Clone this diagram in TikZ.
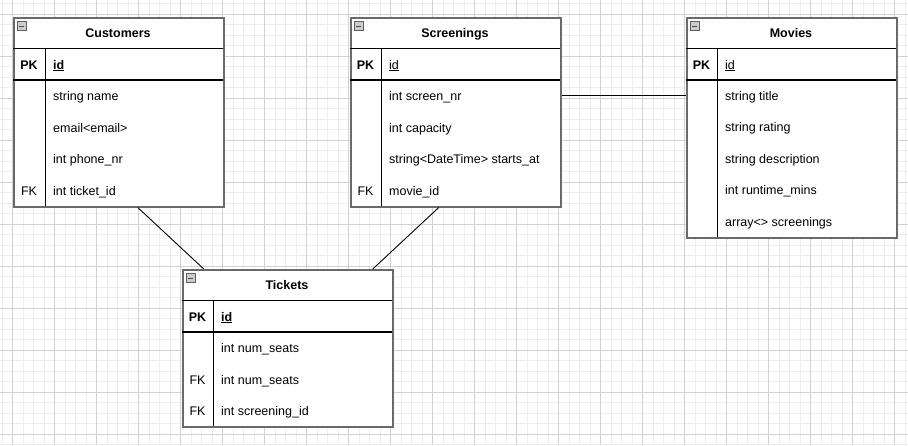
\documentclass[tikz,border=0pt]{standalone}
\usepackage{fontspec}
\setmainfont{Liberation Sans}
\definecolor{gridlight}{HTML}{EEEEEE}
\definecolor{griddark}{HTML}{D2D2D2}
\definecolor{framegray}{HTML}{6A6A6A}
\tikzset{
  tablebox/.style={draw=framegray, line width=1.5pt, fill=white, minimum width=210pt, inner sep=0pt, anchor=north west},
  sepline/.style={black, line width=0.9pt},
  pkline/.style={black, line width=1.3pt},
  txt/.style={inner sep=0pt, text height=10.5pt, text depth=0.5pt},
  title/.style={txt, font=\fontsize{12.5}{15}\selectfont\bfseries},
  keycell/.style={txt, font=\fontsize{12.5}{15}\selectfont},
  pkcell/.style={txt, font=\fontsize{12.5}{15}\selectfont\bfseries},
  field/.style={txt, anchor=west, font=\fontsize{12.5}{15}\selectfont},
  icon/.style={draw=gray!75!black, fill=gray!40, line width=0.7pt},
  link/.style={black, line width=0.9pt},
}
\begin{document}
\begin{tikzpicture}[x=1pt,y=-1pt]
\useasboundingbox (0,0) rectangle (908,445);
% background grid
\fill[white] (0,0) rectangle (908,445);
\foreach \gx in {0,...,86} \draw[gridlight, line width=0.8pt] ({2+10.5*\gx},0) -- ++(0,445);
\foreach \gy in {0,...,42} \draw[gridlight, line width=0.8pt] (0,{3.5+10.5*\gy}) -- ++(908,0);
\foreach \gx in {0,...,21} \draw[griddark, line width=0.8pt] ({12.5+42*\gx},0) -- ++(0,445);
\foreach \gy in {0,...,10} \draw[griddark, line width=0.8pt] (0,{14+42*\gy}) -- ++(908,0);

% Customers
\node[tablebox, minimum height=189pt] (cust) at (13,17) {};
\draw[sepline] (13,48) -- (223,48);
\draw[pkline] (13,80) -- (223,80);
\draw[sepline] (45,48) -- (45,206);
\draw[icon] (17,21.5) rectangle (26,30);
\draw[black!70] (19,25.75) -- (24,25.75);
\node[title] (cust-t) at (118,32.5) {Customers};
\node[pkcell] (cust-pk) at (29,64) {PK};
\node[field, font=\fontsize{12.5}{15}\selectfont\bfseries] (cust-id) at (53,64) {\underline{id}};
\foreach \txt [count=\i] in {string name, email<email>, int phone\_nr, int ticket\_id}
  \node[field] (cust-f\i) at (53,{95.75+31.5*(\i-1)}) {\txt};
\node[keycell] (cust-fk) at (29,190.25) {FK};

% Screenings
\node[tablebox, minimum height=189pt] (scr) at (350,17) {};
\draw[sepline] (350,48) -- (560,48);
\draw[pkline] (350,80) -- (560,80);
\draw[sepline] (381,48) -- (381,206);
\draw[icon] (354,21.5) rectangle (363,30);
\draw[black!70] (356,25.75) -- (361,25.75);
\node[title] (scr-t) at (455,32.5) {Screenings};
\node[pkcell] (scr-pk) at (365.5,64) {PK};
\node[field] (scr-id) at (389,64) {\underline{id}};
\foreach \txt [count=\i] in {int screen\_nr, int capacity, string<DateTime> starts\_at, movie\_id}
  \node[field] (scr-f\i) at (389,{95.75+31.5*(\i-1)}) {\txt};
\node[keycell] (scr-fk) at (365.5,190.25) {FK};

% Movies
\node[tablebox, minimum height=220pt] (mov) at (686,17) {};
\draw[sepline] (686,48) -- (896,48);
\draw[pkline] (686,80) -- (896,80);
\draw[sepline] (717,48) -- (717,237);
\draw[icon] (690,21.5) rectangle (699,30);
\draw[black!70] (692,25.75) -- (697,25.75);
\node[title] (mov-t) at (791,32.5) {Movies};
\node[pkcell] (mov-pk) at (701.5,64) {PK};
\node[field] (mov-id) at (725,64) {\underline{id}};
\foreach \txt [count=\i] in {string title, string rating, string description, int runtime\_mins, array<> screenings}
  \node[field] (mov-f\i) at (725,{95.5+31.4*(\i-1)}) {\txt};

% Tickets
\node[tablebox, minimum height=157pt] (tick) at (182,269) {};
\draw[sepline] (182,300) -- (392,300);
\draw[pkline] (182,332) -- (392,332);
\draw[sepline] (213,300) -- (213,426);
\draw[icon] (186,273.5) rectangle (195,282);
\draw[black!70] (188,277.75) -- (193,277.75);
\node[title] (tick-t) at (287,284.5) {Tickets};
\node[pkcell] (tick-pk) at (197.5,316) {PK};
\node[field, font=\fontsize{12.5}{15}\selectfont\bfseries] (tick-id) at (221,316) {\underline{id}};
\foreach \txt [count=\i] in {int num\_seats, int num\_seats, int screening\_id}
  \node[field] (tick-f\i) at (221,{347.7+31.3*(\i-1)}) {\txt};
\node[keycell] (tick-fk1) at (197.5,379) {FK};
\node[keycell] (tick-fk2) at (197.5,410.3) {FK};

% relations
\draw[link] ([xshift=19pt]cust.south) -- ([xshift=-84pt]tick.north);
\draw[link] ([xshift=-17pt]scr.south) -- ([xshift=85pt]tick.north);
\draw[link] (scr-f1 -| scr.east) -- (scr-f1 -| mov.west);
\end{tikzpicture}
\end{document}
